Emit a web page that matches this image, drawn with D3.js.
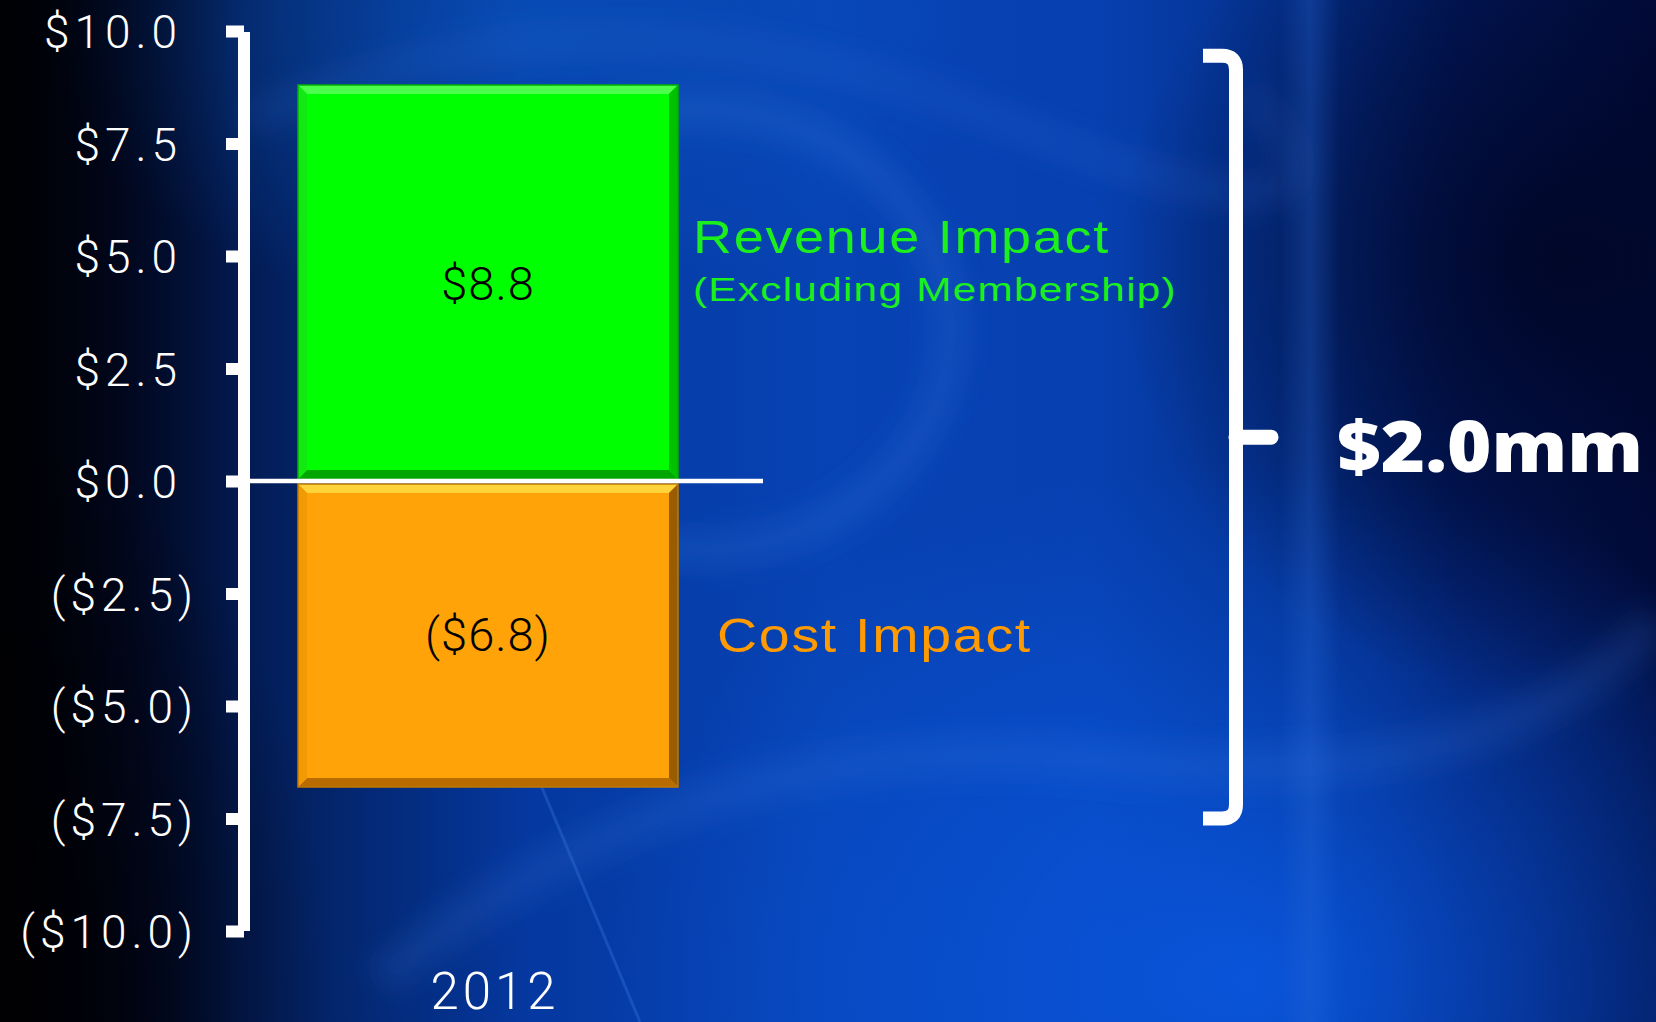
<!DOCTYPE html>
<html>
<head>
<meta charset="utf-8">
<script src="https://cdn.jsdelivr.net/npm/d3@7"></script>
<style>
  html, body { margin: 0; padding: 0; background: #000a2a; overflow: hidden; }
  svg { display: block; }
</style>
</head>
<body>
<svg id="impact-chart" width="1656" height="1022"></svg>
<script>
// chart data
var categories = ["2012"];
var revenueValues = [8.8];
var costValues = [-6.8];
var netValues = [2.0];
var yTickValues = [10, 7.5, 5, 2.5, 0, -2.5, -5, -7.5, -10];
var seriesNames = ["Revenue Impact", "Cost Impact"];
var revenueNote = "(Excluding Membership)";

var fmt = function(v) {
  return v < 0 ? "($" + Math.abs(v).toFixed(1) + ")" : "$" + v.toFixed(1);
};

var svg = d3.select("#impact-chart"),
    width = +svg.attr("width"),
    height = +svg.attr("height");

var y = d3.scaleLinear().domain([-10, 10]).range([931, 31]);
var x = d3.scaleBand().domain(categories).range([298, 678]).padding(0);
var axisX = 244;

// ---- background ----
var defs = svg.append("defs");

var bgH = defs.append("linearGradient").attr("id", "bgH");
[[0, "#00020c"], [0.07, "#010a2c"], [0.17, "#03205e"], [0.32, "#0538a0"],
 [0.5, "#0743b4"], [0.66, "#0740b0"], [0.78, "#04318e"], [0.88, "#021a62"], [1, "#010c3e"]]
  .forEach(function(s) {
    bgH.append("stop").attr("offset", s[0]).attr("stop-color", s[1]);
  });

function radial(id, color, op) {
  var g = defs.append("radialGradient").attr("id", id);
  g.append("stop").attr("offset", 0).attr("stop-color", color).attr("stop-opacity", op);
  g.append("stop").attr("offset", 1).attr("stop-color", color).attr("stop-opacity", 0);
}
radial("glowBR", "#0a5ae6", 0.85);
radial("glowTop", "#0a58c4", 0.6);
radial("darkTR", "#000524", 0.9);
radial("darkBL", "#000008", 0.9);

var leftDark = defs.append("linearGradient").attr("id", "leftDark");
leftDark.append("stop").attr("offset", 0).attr("stop-color", "#000").attr("stop-opacity", 0.75);
leftDark.append("stop").attr("offset", 1).attr("stop-color", "#000").attr("stop-opacity", 0);

var streak = defs.append("linearGradient").attr("id", "streak");
streak.append("stop").attr("offset", 0).attr("stop-color", "#2a6ad8").attr("stop-opacity", 0);
streak.append("stop").attr("offset", 0.5).attr("stop-color", "#2a6ad8").attr("stop-opacity", 0.3);
streak.append("stop").attr("offset", 1).attr("stop-color", "#2a6ad8").attr("stop-opacity", 0);

defs.append("filter").attr("id", "blur")
  .attr("x", "-20%").attr("y", "-20%").attr("width", "140%").attr("height", "140%")
  .append("feGaussianBlur").attr("stdDeviation", 14);

var bg = svg.append("g").attr("class", "background");
bg.append("rect").attr("width", width).attr("height", height).attr("fill", "url(#bgH)");
bg.append("ellipse").attr("cx", 1250).attr("cy", 980).attr("rx", 650).attr("ry", 520).attr("fill", "url(#glowBR)");
bg.append("ellipse").attr("cx", 520).attr("cy", 20).attr("rx", 480).attr("ry", 300).attr("fill", "url(#glowTop)");
bg.append("ellipse").attr("cx", 1560).attr("cy", 260).attr("rx", 440).attr("ry", 440).attr("fill", "url(#darkTR)");
bg.append("ellipse").attr("cx", 0).attr("cy", 1000).attr("rx", 330).attr("ry", 560).attr("fill", "url(#darkBL)");
bg.append("rect").attr("width", 240).attr("height", height).attr("fill", "url(#leftDark)");
bg.append("rect").attr("x", 1280).attr("width", 60).attr("height", height).attr("fill", "url(#streak)");

// faint swirls
var swirl = bg.append("g").attr("filter", "url(#blur)").attr("fill", "none");
swirl.append("ellipse").attr("cx", 700).attr("cy", 330).attr("rx", 250).attr("ry", 220)
  .attr("stroke", "#3d7ae0").attr("stroke-width", 34).attr("stroke-opacity", 0.22);
swirl.append("path").attr("d", "M380,980 Q700,720 1100,760 T1656,620")
  .attr("stroke", "#3f80e8").attr("stroke-width", 40).attr("stroke-opacity", 0.16);
swirl.append("path").attr("d", "M250,120 Q600,-40 1000,120 T1250,90")
  .attr("stroke", "#3f7ae0").attr("stroke-width", 30).attr("stroke-opacity", 0.15);
bg.append("path").attr("d", "M430,520 L640,1022").attr("stroke", "#3a78e0")
  .attr("stroke-width", 3).attr("stroke-opacity", 0.35).attr("fill", "none");

// ---- bars with bevel ----
function bevelBar(g, x0, x1, y0, y1, c) {
  var b = 9;
  g.append("rect").attr("x", x0).attr("y", y0).attr("width", x1 - x0).attr("height", y1 - y0).attr("fill", c.main);
  var polys = [
    [[x0, y0], [x1, y0], [x1 - b, y0 + b], [x0 + b, y0 + b], c.top],
    [[x0, y1], [x1, y1], [x1 - b, y1 - b], [x0 + b, y1 - b], c.bottom],
    [[x0, y0], [x0 + b, y0 + b], [x0 + b, y1 - b], [x0, y1], c.left],
    [[x1, y0], [x1 - b, y0 + b], [x1 - b, y1 - b], [x1, y1], c.right]
  ];
  polys.forEach(function(p) {
    g.append("polygon").attr("points", p.slice(0, 4).map(function(q) { return q.join(","); }).join(" "))
      .attr("fill", p[4]);
  });
  g.append("rect").attr("x", x0).attr("y", y0).attr("width", x1 - x0).attr("height", y1 - y0)
    .attr("fill", "none").attr("stroke", c.edge).attr("stroke-width", 1.5);
}

var greenStyle = {main: "#00ff00", top: "#4dff4d", bottom: "#00a600", left: "#12e812", right: "#00c000", edge: "#00b000"};
var orangeStyle = {main: "#ffa308", top: "#ffd43a", bottom: "#b86c00", left: "#f29a04", right: "#9a5c00", edge: "#c07800"};

var bars = svg.append("g").attr("class", "bars");
var cx = function(cat) { return x(cat) + x.bandwidth() / 2; };
categories.forEach(function(cat, i) {
  var x0 = x(cat), x1 = x(cat) + x.bandwidth();
  bevelBar(bars, x0, x1, y(revenueValues[i]), y(0) - 2, greenStyle);
  bevelBar(bars, x0, x1, y(0) + 3, y(costValues[i]), orangeStyle);

  [revenueValues[i], costValues[i]].forEach(function(v) {
    bars.append("text").attr("x", cx(cat)).attr("y", y(v / 2) + 17)
      .attr("text-anchor", "middle").attr("font-family", "Roboto, 'Noto Sans', sans-serif")
      .attr("font-weight", 300).attr("font-size", 47).attr("letter-spacing", 1)
      .attr("fill", "#000").text(fmt(v));
  });
});

// zero line
svg.append("line")
  .attr("x1", axisX + 6).attr("x2", x(categories[0]) + x.bandwidth() + 85)
  .attr("y1", y(0)).attr("y2", y(0))
  .attr("stroke", "#fff").attr("stroke-width", 4.5);

// ---- y axis ----
var yAxis = d3.axisLeft(y)
  .tickValues(yTickValues)
  .tickFormat(fmt)
  .tickSizeInner(18)
  .tickSizeOuter(0)
  .tickPadding(28);

var ax = svg.append("g").attr("transform", "translate(" + axisX + ",0)").call(yAxis);
ax.select(".domain").attr("stroke", "#fff").attr("stroke-width", 12)
  .attr("d", "M0," + (y(10) + 1) + "V" + y(-10));
ax.selectAll(".tick line").attr("stroke", "#fff").attr("stroke-width", 12).attr("x2", -18);
ax.selectAll(".tick text")
  .attr("fill", "#fff")
  .attr("font-family", "Roboto, 'Noto Sans', sans-serif")
  .attr("font-weight", 300)
  .attr("font-size", 46)
  .attr("letter-spacing", 5)
  .attr("dy", "0.36em")
  .attr("dx", function(d) { return d < 0 ? 0 : -16; });

// category label
svg.selectAll(".cat-label").data(categories).enter().append("text")
  .attr("class", "cat-label")
  .attr("x", function(d) { return cx(d) + 7; })
  .attr("y", 1009)
  .attr("text-anchor", "middle")
  .attr("font-family", "Roboto, 'Noto Sans', sans-serif")
  .attr("font-weight", 300)
  .attr("font-size", 51)
  .attr("letter-spacing", 4)
  .attr("fill", "#fff")
  .text(function(d) { return d; });

// ---- series annotations ----
var barRight = x(categories[0]) + x.bandwidth();
var labelFont = "'Liberation Sans', Arial, sans-serif";
svg.append("text").attr("x", barRight + 15).attr("y", 253)
  .attr("font-family", labelFont).attr("font-size", 47).attr("letter-spacing", 1.5)
  .attr("textLength", 417).attr("lengthAdjust", "spacingAndGlyphs")
  .attr("fill", "#1cf01c").text(seriesNames[0]);
svg.append("text").attr("x", barRight + 15).attr("y", 301)
  .attr("font-family", labelFont).attr("font-size", 33).attr("letter-spacing", 1)
  .attr("textLength", 484).attr("lengthAdjust", "spacingAndGlyphs")
  .attr("fill", "#1cf01c").text(revenueNote);
svg.append("text").attr("x", barRight + 39).attr("y", 652)
  .attr("font-family", labelFont).attr("font-size", 49).attr("letter-spacing", 1.5)
  .attr("textLength", 315).attr("lengthAdjust", "spacingAndGlyphs")
  .attr("fill", "#ff9a00").text(seriesNames[1]);

// ---- net bracket ----
var bTop = y(9.45), bBot = y(-7.5), bMid = (bTop + bBot) / 2, bx = 1236;
var bracket = svg.append("g").attr("fill", "none").attr("stroke", "#fff").attr("stroke-width", 14);
bracket.append("path").attr("stroke-linejoin", "round")
  .attr("d", "M1203," + bTop + "H" + (bx - 14) + "Q" + bx + "," + bTop + " " + bx + "," + (bTop + 14) +
             "V" + (bBot - 14) + "Q" + bx + "," + bBot + " " + (bx - 14) + "," + bBot + "H1203");
bracket.append("path").attr("stroke-linecap", "round").attr("stroke-width", 15)
  .attr("d", "M" + bx + "," + bMid + "H1271");

svg.append("text").attr("x", 1337).attr("y", 472)
  .attr("font-family", "'Open Sans', Lato, sans-serif").attr("font-weight", 800)
  .attr("font-size", 70).attr("textLength", 306).attr("lengthAdjust", "spacingAndGlyphs")
  .attr("fill", "#fff").text("$" + netValues[0].toFixed(1) + "mm");
</script>
</body>
</html>
